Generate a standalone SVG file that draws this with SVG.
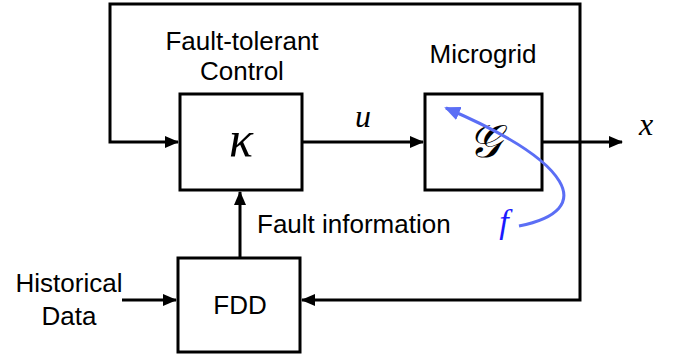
<svg xmlns="http://www.w3.org/2000/svg" width="676" height="360" viewBox="0 0 676 360">
<style>
.box{fill:#fff;stroke:#000;stroke-width:3}
.ln{fill:none;stroke:#000;stroke-width:3}
.t{font-family:"Liberation Sans",Arial,sans-serif;font-size:26px;fill:#000}
.m{font-family:"Liberation Serif","DejaVu Serif",serif;font-style:italic;fill:#000}
</style>
<defs>
<marker id="ah" markerWidth="14" markerHeight="12" refX="13" refY="6" orient="auto" markerUnits="userSpaceOnUse">
<path d="M0,0 L14,6 L0,12 Z" fill="#000"/>
</marker>
<marker id="bh" markerWidth="16" markerHeight="14" refX="14" refY="7" orient="auto" markerUnits="userSpaceOnUse">
<path d="M0,0 L16,7 L0,14 Z" fill="#5b6ef5"/>
</marker>
</defs>
<g id="connectors">
<path class="ln" d="M580,142 L580,4 L110,4 L110,142 L178,142" marker-end="url(#ah)"/>
<path class="ln" d="M302,142 L423,142" marker-end="url(#ah)"/>
<path class="ln" d="M542,142 L622,142" marker-end="url(#ah)"/>
<path class="ln" d="M580,142 L580,300 L302,300" marker-end="url(#ah)"/>
<path class="ln" d="M122,300 L176,300" marker-end="url(#ah)"/>
<path class="ln" d="M240,258 L240,192" marker-end="url(#ah)"/>
<text class="m" x="363" y="127" font-size="32" text-anchor="middle">u</text>
<text class="m" x="646" y="135" font-size="32" text-anchor="middle">x</text>
<text class="t" x="257" y="233">Fault information</text>
<text class="t" x="69" y="292" text-anchor="middle">Historical</text>
<text class="t" x="69" y="325" text-anchor="middle">Data</text>
</g>
<g id="control">
<rect class="box" x="180" y="94" width="122" height="96"/>
<text class="m" x="241" y="156" font-size="50" font-weight="normal" text-anchor="middle">κ</text>
<text class="t" x="242" y="50" text-anchor="middle">Fault-tolerant</text>
<text class="t" x="242" y="80" text-anchor="middle">Control</text>
</g>
<g id="microgrid">
<rect class="box" x="425" y="94" width="117" height="96"/>
<text class="m" x="484" y="157" font-size="46" text-anchor="middle">𝒢</text>
<text class="t" x="483" y="63" text-anchor="middle">Microgrid</text>
</g>
<g id="fdd">
<rect class="box" x="178" y="258" width="122" height="94"/>
<text class="t" x="240" y="314" text-anchor="middle">FDD</text>
</g>
<g id="fault">
<path d="M519,226 C598,210 572,162 446,108" fill="none" stroke="#5b6ef5" stroke-width="3" marker-end="url(#bh)"/>
<text class="m" x="504" y="233" font-size="34" style="fill:#1a1aff" text-anchor="middle">f</text>
</g>
</svg>
